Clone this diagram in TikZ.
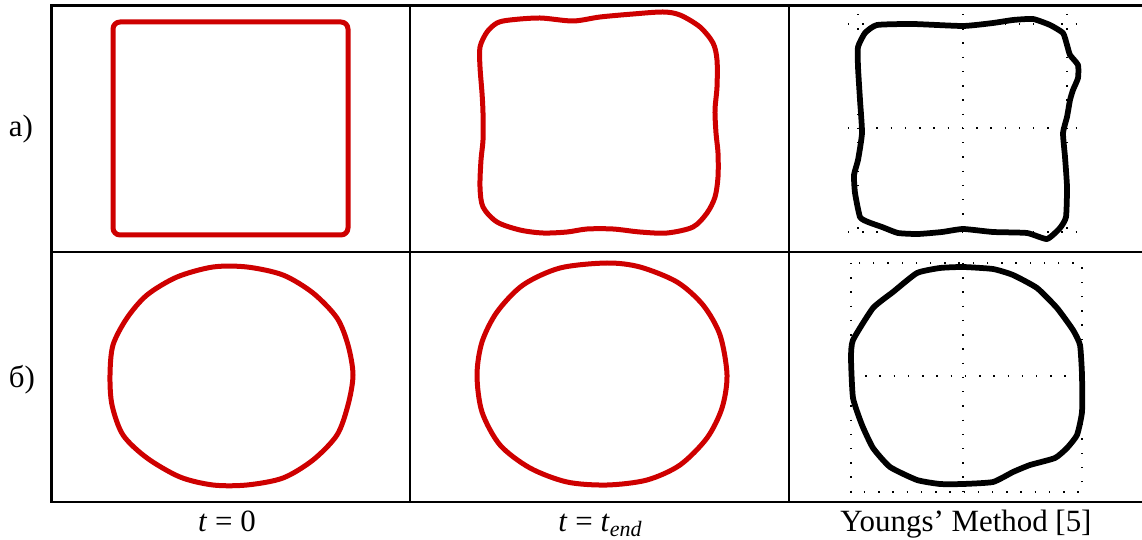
\documentclass[tikz,border=0pt]{standalone}
\usepackage{fontspec}
\setmainfont{Liberation Serif}
\definecolor{trace}{RGB}{206,0,0}

\begin{document}
\begin{tikzpicture}[
  x=0.02cm, y=-0.02cm,
  cell/.style={black,line width=0.05cm,line join=miter},
  redline/.style={trace,line width=0.1cm,line join=round},
  blackline/.style={black,line width=0.115cm,line join=round},
  gridline/.style={black,line width=0.8pt,dash pattern=on 0.8pt off 7.3pt},
  caption/.style={font=\fontsize{17.6}{21}\selectfont,anchor=base,inner sep=0pt}
]
\useasboundingbox (0,0) rectangle (1142,540);
\def\rtop{5.5}
\def\rmid{252}
\def\rbot{502}
% table
\draw[cell] (1142,\rtop) -- (51.5,\rtop) -- (51.5,\rbot) -- (1142,\rbot);
\draw[cell] (51.5,\rmid) -- (1142,\rmid);
\foreach \cx in {410,789}
  \draw[cell] (\cx,\rtop) -- (\cx,\rbot);

% row labels and column captions
\node[caption] (rowa) at (21,137)  {а)};
\node[caption] (rowb) at (22,387)  {б)};
\node[caption] (capa) at (227,531) {\textit{t} = 0};
\node[caption] (capb) at (600,531) {\textit{t} = \textit{t}\raisebox{-3pt}{\fontsize{12.5}{13}\selectfont\textit{end}}};
\node[caption] (capc) at (966,531) {Youngs’ Method [5]};

% a) square, t = 0
\draw[redline,rounded corners=4pt] (113,22) rectangle (348,235);

% a) square, t = t_end
\draw[redline] plot[smooth cycle,tension=0.5] coordinates {
  (497,23) (510,20) (540,18) (573,21) (600,17) (633,14) (663,12) (680,15)
  (700,27) (713,43) (717,60) (717,87) (715,110) (716,133) (718,153) (718,177)
  (715,197) (707,213) (693,227) (667,233) (640,232) (613,229) (587,229) (567,232)
  (543,233) (520,230) (497,222) (483,207) (480,187) (481,160) (483,140) (483,113)
  (482,93) (480,67) (480,47) (487,32)};

% a) Youngs
\foreach \gx in {858,963,1067}
  \draw[gridline] (\gx,14) -- (\gx,238);
\foreach \gy in {24,128,232}
  \draw[gridline] (848,\gy) -- (1087,\gy);
\draw[blackline] plot[smooth cycle,tension=0.3] coordinates {
  (877,25) (913,24) (963,26) (993,23) (1013,20) (1033,19) (1050,25) (1063,33)
  (1067,45) (1070,55) (1078,65) (1078,78) (1073,90) (1070,100) (1067,117) (1063,133)
  (1065,157) (1067,187) (1066,217) (1060,228) (1047,239) (1027,233) (993,232) (963,229)
  (942,232) (918,234) (898,233) (882,227) (868,222) (860,217) (855,193) (854,175)
  (858,160) (862,133) (860,100) (858,67) (858,47) (865,33)};

% b) circle, t = 0
\draw[redline] plot[smooth cycle,tension=0.5] coordinates {
  (213,267) (247,267) (283,275) (313,293) (337,318) (348,345) (353,375) (348,405)
  (337,435) (313,460) (283,478) (247,485) (213,485) (180,477) (147,458) (123,435)
  (112,405) (110,375) (113,345) (127,318) (147,295) (177,277)};

% b) circle, t = t_end
\draw[redline] plot[smooth cycle,tension=0.5] coordinates {
  (607,263) (640,267) (677,282) (703,305) (720,335) (727,375) (722,408) (707,438)
  (680,465) (647,480) (607,485) (567,482) (530,468) (500,445) (482,412) (477,375)
  (482,342) (497,312) (523,285) (560,268)};

% b) Youngs
\draw[gridline] (851,263) rectangle (1082,492);
\draw[gridline] (963,263) -- (963,492);
\draw[gridline] (851,376) -- (1082,376);
\draw[blackline] plot[smooth cycle,tension=0.3] coordinates {
  (963,267) (993,269) (1013,275) (1037,288) (1057,308) (1073,330) (1080,345) (1082,375)
  (1082,412) (1077,435) (1067,448) (1055,458) (1030,465) (1013,472) (993,482) (963,484)
  (940,484) (917,480) (890,467) (873,448) (862,425) (853,398) (851,358) (853,340)
  (873,308) (893,292) (917,273) (940,268)};
\end{tikzpicture}
\end{document}
